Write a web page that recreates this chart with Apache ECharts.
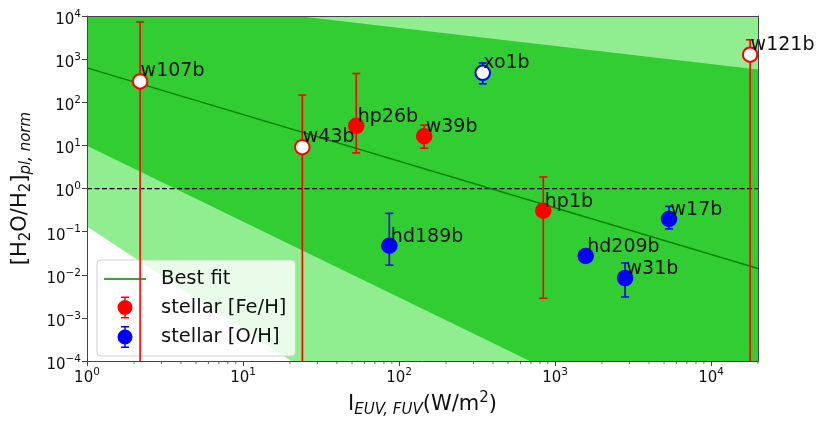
<!DOCTYPE html>
<html>
<head>
<meta charset="utf-8">
<script src="https://cdn.jsdelivr.net/npm/echarts@6/dist/echarts.min.js"></script>
<style>html,body{margin:0;padding:0;background:#fff}#c{width:818px;height:423px}</style>
</head>
<body>
<div id="c"></div>
<script>
// ---------- data ----------
const xMin = 1, xMax = 20000, yMin = 1e-4, yMax = 1e4;

// stellar [Fe/H] sample (red)
const feNames = ['w107b', 'w43b', 'hp26b', 'w39b', 'hp1b', 'w121b'];
const feX     = [2.19, 24.0, 53.2, 145, 841, 17800];
const feY     = [304, 9.1, 28.5, 16.3, 0.307, 1268];
const feLow   = [1e-6, 1e-6, 6.72, 8.6, 0.00286, 1e-6];
const feHigh  = [7280, 147, 464, 29.6, 1.86, 2807];

// stellar [O/H] sample (blue)
const ohNames = ['xo1b', 'hd189b', 'hd209b', 'w31b', 'w17b'];
const ohX     = [344, 86.7, 1573, 2812, 5380];
const ohY     = [481, 0.0472, 0.0273, 0.0084, 0.197];
const ohLow   = [268, 0.0167, 0.0255, 0.00307, 0.116];
const ohHigh  = [817, 0.266, 0.0292, 0.0189, 0.385];

// points drawn as open circles
const openPoints = ['w107b', 'w43b', 'w121b', 'xo1b'];

// best fit line and confidence bands (values at x = 1 and x = 20000)
const fitX = [1, 20000];
const fitY = [628, 0.014];
const innerUpper = [36700, 574];
const innerLower = [9.77, 2.71e-7];
const outerUpper = [1e4, 1e4];
const outerLower = [0.132, 7.66e-12];

// reference level
const refLevel = 1;

// x minor tick values
const xMinorTicks = [];
[1, 10, 100, 1000, 10000].forEach(d => { for (let k = 2; k <= 9; k++) if (k * d <= xMax) xMinorTicks.push(k * d); });

// ---------- chart ----------
const FONT = 'DejaVu Sans';
const RED = '#ff0000', BLUE = '#0000ff', GREEN = '#008000';
const chart = echarts.init(document.getElementById('c'), null, {renderer: 'canvas'});

function tickFmt(v) {
  const e = Math.round(Math.log10(v));
  if (Math.abs(Math.log10(v) - e) > 1e-6) return '';
  const s = e < 0 ? '\u2212' + (-e) : String(e);
  return '{b|10}{s|' + s + '}';
}
const tickRich = {
  b: {fontSize: 15, fontFamily: FONT, color: '#111', verticalAlign: 'bottom'},
  s: {fontSize: 10.5, fontFamily: FONT, color: '#111', verticalAlign: 'bottom', padding: [0, 0, 8, 0]}
};

function scatterData(names, xs, ys) {
  return names.map((n, i) => {
    const open = openPoints.indexOf(n) >= 0;
    const size = open ? 14.5 : 16.5;
    const item = {
      name: n, value: [xs[i], ys[i]], symbolSize: size,
      label: {position: [size / 2 + 1.5, size / 2 + 0.5]}
    };
    if (open) item.itemStyle = {color: '#ffffff', borderWidth: 2};
    return item;
  });
}

function errRender(color) {
  return function (params, api) {
    const x = api.value(0), lo = api.value(1), hi = api.value(2);
    const a = api.coord([x, lo]), b = api.coord([x, hi]);
    const st = {stroke: color, lineWidth: 1.6};
    return {type: 'group', children: [
      {type: 'line', shape: {x1: a[0], y1: a[1], x2: b[0], y2: b[1]}, style: st},
      {type: 'line', shape: {x1: b[0] - 4, y1: b[1], x2: b[0] + 4, y2: b[1]}, style: st},
      {type: 'line', shape: {x1: a[0] - 4, y1: a[1], x2: a[0] + 4, y2: a[1]}, style: st}
    ]};
  };
}

const errIcon = 'path://M7.25,0H8.75V3.5H7.25Z M4,0H12V1.5H4Z M0.5,11A7.5,7.5 0 1,1 15.5,11A7.5,7.5 0 1,1 0.5,11Z M7.25,18.5H8.75V22H7.25Z M4,20.5H12V22H4Z';
const lineIcon = 'path://M0,0H42V1.6H0Z';

const axisCommon = {
  type: 'log', logBase: 10,
  axisLine: {show: true, onZero: false, lineStyle: {color: '#444', width: 1}},
  splitLine: {show: false},
  z: 10
};

const option = {
  animation: false,
  backgroundColor: '#ffffff',
  textStyle: {fontFamily: FONT},
  grid: {left: 87, right: 60, top: 16, bottom: 59, containLabel: false},
  xAxis: [
    Object.assign({}, axisCommon, {
      min: xMin, max: xMax, position: 'bottom',
      axisTick: {show: true, length: 5, lineStyle: {color: '#444'}},
      axisLabel: {formatter: tickFmt, rich: tickRich, margin: 6, showMaxLabel: false},
      name: 'I{s|EUV, FUV}{m|(W/m}{p|2}{m|)}',
      nameLocation: 'middle', nameGap: 31,
      nameTextStyle: {
        rich: {
          m: {fontSize: 21, fontFamily: FONT, color: '#111', verticalAlign: 'bottom', padding: [0, 0, 3, 0]},
          s: {fontSize: 15, fontFamily: FONT, fontStyle: 'italic', color: '#111', verticalAlign: 'bottom'},
          p: {fontSize: 15, fontFamily: FONT, color: '#111', verticalAlign: 'bottom', padding: [0, 0, 12, 0]}
        },
        fontSize: 21, color: '#111', verticalAlign: 'bottom', padding: [0, 0, 3, 0]
      }
    }),
    Object.assign({}, axisCommon, {
      min: xMin, max: xMax, position: 'top',
      axisTick: {show: false}, axisLabel: {show: false}
    })
  ],
  yAxis: [
    Object.assign({}, axisCommon, {
      min: yMin, max: yMax, position: 'left',
      axisTick: {show: true, length: 5, lineStyle: {color: '#444'}},
      axisLabel: {formatter: tickFmt, rich: tickRich, margin: 6, padding: [4, 0, 0, 0]},
      name: '{m|[H}{s|2}{m|O/H}{s|2}{m|]}{i|pl, norm}',
      nameLocation: 'middle', nameGap: 53, nameRotate: 90,
      nameTextStyle: {
        rich: {
          m: {fontSize: 21, fontFamily: FONT, color: '#111', verticalAlign: 'bottom', padding: [0, 0, 3, 0]},
          s: {fontSize: 15, fontFamily: FONT, color: '#111', verticalAlign: 'bottom'},
          i: {fontSize: 15, fontFamily: FONT, fontStyle: 'italic', color: '#111', verticalAlign: 'bottom'}
        }
      }
    }),
    Object.assign({}, axisCommon, {
      min: yMin, max: yMax, position: 'right',
      axisTick: {show: false}, axisLabel: {show: false}
    })
  ],
  legend: {
    left: 97, top: 260, orient: 'vertical',
    itemWidth: 42, itemHeight: 22, itemGap: 7.5,
    padding: [9, 9, 8, 7],
    backgroundColor: 'rgba(255,255,255,0.8)',
    borderColor: '#d0d0d0', borderWidth: 1, borderRadius: 4,
    textStyle: {fontSize: 19.5, fontFamily: FONT, color: '#111', padding: [0, 0, 0, 10]},
    selectedMode: false,
    data: [
      {name: 'Best fit', icon: lineIcon, itemStyle: {color: GREEN}},
      {name: 'stellar [Fe/H]', icon: errIcon},
      {name: 'stellar [O/H]', icon: errIcon}
    ]
  },
  series: [
    {
      type: 'custom', name: 'bands', z: 1, clip: true, silent: true,
      data: [[fitX[0], outerLower[0]], [fitX[0], innerLower[0]]],
      renderItem: function (params, api) {
        const lower = params.dataIndex === 0 ? outerLower : innerLower;
        const upper = params.dataIndex === 0 ? outerUpper : innerUpper;
        const pts = [
          api.coord([fitX[0], lower[0]]), api.coord([fitX[1], lower[1]]),
          api.coord([fitX[1], upper[1]]), api.coord([fitX[0], upper[0]])
        ];
        return {type: 'polygon', shape: {points: pts},
          style: {fill: params.dataIndex === 0 ? '#90EE90' : '#32CD32'}};
      }
    },
    {
      type: 'line', name: 'ref', z: 2, symbol: 'none', silent: true,
      data: [[xMin, refLevel], [xMax, refLevel]],
      lineStyle: {color: '#000', width: 1.2, type: [5, 2.5]}
    },
    {
      type: 'line', name: 'Best fit', z: 3, symbol: 'none', showSymbol: false, silent: true,
      data: fitX.map((x, i) => [x, fitY[i]]),
      itemStyle: {color: GREEN},
      lineStyle: {color: GREEN, width: 1.5}
    },
    {
      type: 'custom', name: 'feErr', z: 4, clip: true, silent: true,
      data: feX.map((x, i) => [x, feLow[i], feHigh[i]]),
      encode: {x: 0, y: [1, 2]},
      renderItem: errRender(RED)
    },
    {
      type: 'custom', name: 'ohErr', z: 4, clip: true, silent: true,
      data: ohX.map((x, i) => [x, ohLow[i], ohHigh[i]]),
      encode: {x: 0, y: [1, 2]},
      renderItem: errRender(BLUE)
    },
    {
      type: 'scatter', name: 'stellar [Fe/H]', z: 5, symbol: 'circle', silent: true,
      itemStyle: {color: RED, borderColor: RED, borderWidth: 0, opacity: 1},
      label: {show: true, formatter: '{b}', fontSize: 19, fontFamily: FONT, color: '#111', align: 'left', verticalAlign: 'bottom'},
      emphasis: {disabled: true},
      data: scatterData(feNames, feX, feY)
    },
    {
      type: 'scatter', name: 'stellar [O/H]', z: 5, symbol: 'circle', silent: true,
      itemStyle: {color: BLUE, borderColor: BLUE, borderWidth: 0, opacity: 1},
      label: {show: true, formatter: '{b}', fontSize: 19, fontFamily: FONT, color: '#111', align: 'left', verticalAlign: 'bottom'},
      emphasis: {disabled: true},
      data: scatterData(ohNames, ohX, ohY)
    },
    {
      type: 'custom', name: 'minorTicks', z: 10, clip: false, silent: true,
      data: xMinorTicks.map(v => [v, yMin]),
      renderItem: function (params, api) {
        const p = api.coord([api.value(0), yMin]);
        return {type: 'line', shape: {x1: p[0], y1: p[1], x2: p[0], y2: p[1] + 3},
          style: {stroke: '#444', lineWidth: 0.8}};
      }
    }
  ]
};
chart.setOption(option);
</script>
</body>
</html>
